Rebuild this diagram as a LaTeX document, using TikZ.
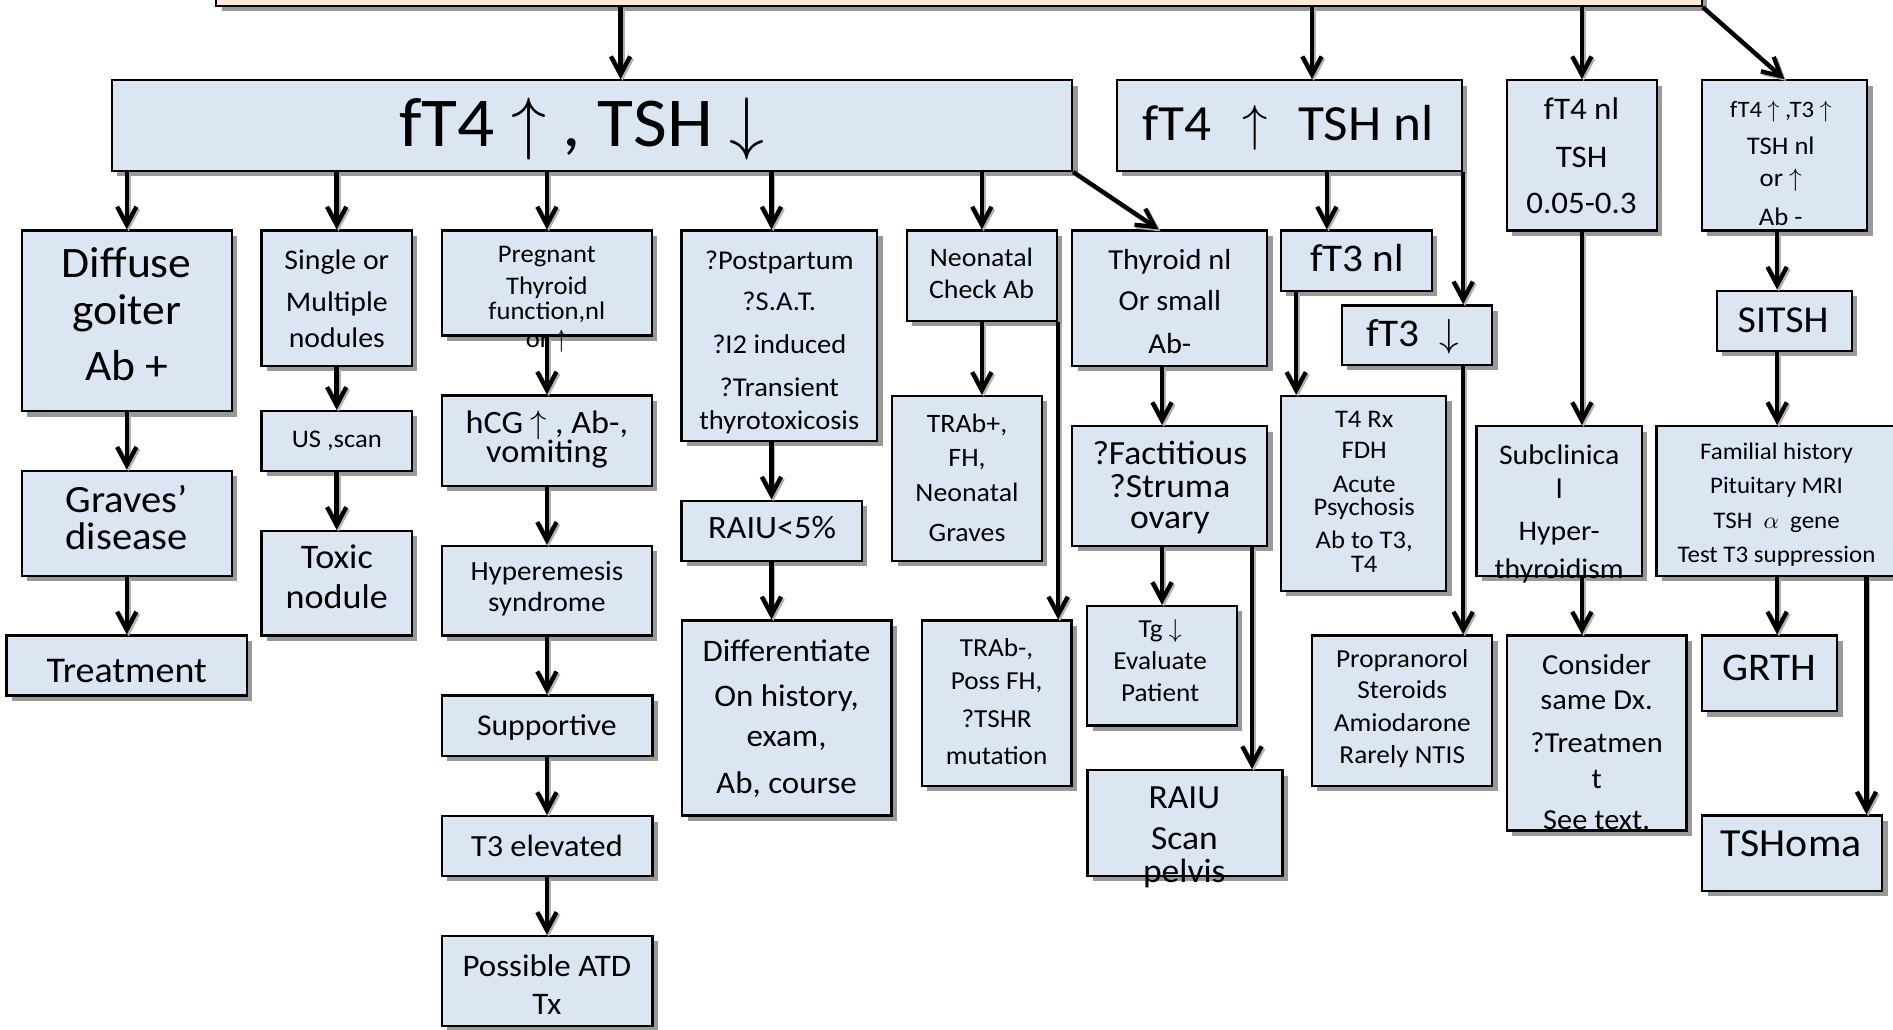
\documentclass[tikz,border=0pt]{standalone}
\DeclareFontShape{OMS}{cmsy}{m}{n}{<->cmsy10}{}
\DeclareFontShape{OML}{cmm}{m}{it}{<->cmmi10}{}
\usepackage{fontspec}
\setmainfont{Carlito}[FakeStretch=1.05]
\usetikzlibrary{arrows.meta,shadows,fit}
\definecolor{boxblue}{HTML}{DCE6F2}
\definecolor{peach}{HTML}{FDEADA}
\tikzset{
  box/.style={draw=black, line width=1.9pt, fill=boxblue, inner sep=0pt,
    drop shadow={shadow xshift=4.5pt, shadow yshift=-4.5pt, fill=black!40, opacity=1}},
  arr/.style={line width=3.6pt, -{Straight Barb[length=15pt,width=16pt]},
    preaction={draw=black!30, line width=3.6pt, -{Straight Barb[length=15pt,width=16pt]},
      transform canvas={shift={(1.5pt,-1.5pt)}}}},
}
\newcommand\boxtext[4]{%
  \foreach \yy/\mytext [count=\ii] in {#4}{%
    \node[inner sep=0pt, anchor=base, font=\fontsize{#3}{#3}\selectfont] (#1\ii) at (#2,\yy+0.322*#3) {\mytext};
  }}
\begin{document}
\begin{tikzpicture}[x=1pt,y=-1pt]
\path[use as bounding box] (0,0) rectangle (1568,853);
\clip (0,0) rectangle (1568,853);
% boxes
\node[box, fill=peach, fit={(179,-40) (1409.5,5)}] (top) {};
\node[box, fit={(92.5,66.5) (888,141.5)}] (A) {};
\node[box, fit={(925,66.5) (1211,141.5)}] (B) {};
\node[box, fit={(1248,66.5) (1372.5,191)}] (C) {};
\node[box, fit={(1409.5,66.5) (1546.5,191)}] (D) {};
\node[box, fit={(18,191) (192,340.5)}] (E) {};
\node[box, fit={(216.7,191) (341,303)}] (F) {};
\node[box, fit={(366,191) (540,278)}] (G) {};
\node[box, fit={(564.5,191) (726.5,365)}] (H) {};
\node[box, fit={(751,191) (875.5,265.6)}] (I) {};
\node[box, fit={(888,191) (1049.6,303)}] (J) {};
\node[box, fit={(1061,191) (1186,240.8)}] (K) {};
\node[box, fit={(1111.5,253) (1236,302.3)}] (L) {};
\node[box, fit={(1223,353) (1360,477)}] (M) {};
\node[box, fit={(1422,240.8) (1534,290.7)}] (N) {};
\node[box, fit={(1372,353) (1590,477)}] (O) {};
\node[box, fit={(18,390) (192,477)}] (P) {};
\node[box, fit={(5.5,526.5) (204.5,576)}] (Q) {};
\node[box, fit={(216.7,340.4) (341,390)}] (R) {};
\node[box, fit={(216.7,439.8) (341,526.5)}] (S) {};
\node[box, fit={(366,327.7) (540,402.6)}] (T) {};
\node[box, fit={(366,452.2) (540,526.5)}] (U) {};
\node[box, fit={(366,576) (540.5,626)}] (V) {};
\node[box, fit={(366,676) (540.5,725.6)}] (W) {};
\node[box, fit={(366,775.3) (540.5,849.6)}] (X) {};
\node[box, fit={(564.5,414.7) (714,464.4)}] (Y) {};
\node[box, fit={(565,514) (738.5,675.6)}] (Z) {};
\node[box, fit={(739,328) (863,464.4)}] (AA) {};
\node[box, fit={(763.6,514) (887.6,651)}] (AB) {};
\node[box, fit={(888,353) (1049.6,452)}] (AC) {};
\node[box, fit={(900.5,502) (1024.6,601)}] (AD) {};
\node[box, fit={(900.8,638) (1062.3,725.6)}] (AE) {};
\node[box, fit={(1061,328) (1198,489.3)}] (AF) {};
\node[box, fit={(1248,526.5) (1397,688)}] (AG) {};
\node[box, fit={(1086.5,526.5) (1236,651)}] (AH) {};
\node[box, fit={(1409.5,526.5) (1521.7,589)}] (AI) {};
\node[box, fit={(1410,675.6) (1559,737.8)}] (AJ) {};
% column coordinates
\coordinate (xa) at (514,0);
\coordinate (xb) at (1086.7,0);
\coordinate (xh) at (639,0);
\coordinate (xk) at (1099,0);
\coordinate (xn) at (1472,0);
\coordinate (xj) at (962.5,0);
\coordinate (xe) at (1037,0);
\coordinate (xf) at (1073.6,0);
\coordinate (xo) at (1546,0);
% connectors
\draw[arr] (xa |- top.south) -- (xa |- A.north);
\draw[arr] (xb |- top.south) -- (xb |- B.north);
\draw[arr] (C.north |- top.south) -- (C.north);
\draw[arr] (top.south east) -- (D.north);
\draw[arr] (E.north |- A.south) -- (E.north);
\draw[arr] (F.north |- A.south) -- (F.north);
\draw[arr] (G.north |- A.south) -- (G.north);
\draw[arr] (xh |- A.south) -- (xh |- H.north);
\draw[arr] (I.north |- A.south) -- (I.north);
\draw[arr] (A.south east) -- ([xshift=-9pt]J.north);
\draw[arr] (xk |- B.south) -- (xk |- K.north);
\draw[arr] (B.south east) -- (B.south east |- L.north);
\draw[arr] (C.south) -- (C.south |- M.north);
\draw[arr] (xn |- D.south) -- (xn |- N.north);
\draw[arr] (xn |- N.south) -- (xn |- O.north);
\draw[arr] (E.south) -- (P.north);
\draw[arr] (P.south) -- (P.south |- Q.north);
\draw[arr] (F.south) -- (F.south |- R.north);
\draw[arr] (R.south) -- (R.south |- S.north);
\draw[arr] (G.south) -- (G.south |- T.north);
\draw[arr] (T.south) -- (T.south |- U.north);
\draw[arr] (U.south) -- (U.south |- V.north);
\draw[arr] (U.south |- V.south) -- (U.south |- W.north);
\draw[arr] (U.south |- W.south) -- (U.south |- X.north);
\draw[arr] (xh |- H.south) -- (xh |- Y.north);
\draw[arr] (xh |- Y.south) -- (xh |- Z.north);
\draw[arr] (I.south) -- (I.south |- AA.north);
\draw[arr] (I.south east) -- (I.south east |- AB.north);
\draw[arr] (xj |- J.south) -- (xj |- AC.north);
\draw[arr] (xj |- AC.south) -- (xj |- AD.north);
\draw[arr] (xe |- AC.south) -- (xe |- AE.north);
\draw[arr] (xf |- K.south) -- (xf |- AF.north);
\draw[arr] (B.south east |- L.south) -- (B.south east |- AH.north);
\draw[arr] (C.south |- M.south) -- (C.south |- AG.north);
\draw[arr] (xn |- O.south) -- (xn |- AI.north);
\draw[arr] (xo |- O.south) -- (xo |- AJ.north);
% texts
\boxtext{tA}{482}{58}{102.5/{fT4 $\uparrow$ , TSH $\downarrow$}}
\boxtext{tB}{1067}{42}{102.5/{fT4\hspace{0.6em}$\uparrow$\hspace{0.6em}TSH nl}}
\boxtext{tC}{1310}{26}{91/{fT4 nl}, 130.5/TSH, 168.7/0.05-0.3}
\boxtext{tD}{1475}{21}{90.4/{\fontsize{19.5}{19.5}\selectfont fT4 $\uparrow$ ,T3 $\uparrow$}, 121.5/{TSH nl}, 148/{or $\uparrow$}, 180/{Ab -}}
\boxtext{tE}{105}{36}{218.4/Diffuse, 257.5/goiter, 303.8/{Ab +}}
\boxtext{tF}{279}{23.5}{215.8/{Single or}, 250.6/Multiple, 280/nodules}
\boxtext{tG}{453}{21}{210.5/Pregnant, 236.8/Thyroid, 257.5/{function,nl}, 281/{or $\uparrow$}}
\boxtext{tH}{645.5}{22.5}{215.8/?Postpartum, 250.2/?S.A.T., 285.5/{?I2 induced}, 321/?Transient, 348.8/thyrotoxicosis}
\boxtext{tI}{813}{22}{214/Neonatal, 240.2/{Check Ab}}
\boxtext{tJ}{969}{24}{215.2/{Thyroid nl}, 249.7/{Or small}, 285/Ab-}
\boxtext{tK}{1124}{32.5}{214.7/{fT3 nl}}
\boxtext{tL}{1170}{32.5}{276.8/{fT3\hspace{0.5em}$\downarrow$}}
\boxtext{tM}{1291.5}{23.5}{377.3/Subclinica, 405.6/l, 440.4/Hyper-, 471.4/thyroidism}
\boxtext{tN}{1477}{31.5}{265/SITSH}
\boxtext{tO}{1471.5}{19.7}{374.2/{Familial history}, 402.4/{Pituitary MRI}, 431.4/{TSH~~$\alpha$~~gene}, 459.5/{Test T3 suppression}}
\boxtext{tP}{105}{32}{414.2/Graves’, 445/disease}
\boxtext{tQ}{105}{30}{555.6/Treatment}
\boxtext{tR}{279}{21}{363.7/{US ,scan}}
\boxtext{tS}{279}{28.5}{461.8/Toxic, 494.7/nodule}
\boxtext{tT}{453}{27}{350.2/{hCG $\uparrow$ , Ab-,}, 374.5/vomiting}
\boxtext{tU}{453}{23}{473.2/Hyperemesis, 499/syndrome}
\boxtext{tV}{453}{25}{601.5/Supportive}
\boxtext{tW}{453}{25.5}{701.3/{T3 elevated}}
\boxtext{tX}{453}{26}{800.7/{Possible ATD}, 832/Tx}
\boxtext{tY}{639.5}{27}{437.2/{RAIU<5\%}}
\boxtext{tZ}{651.5}{26}{539.8/Differentiate, 577/{On history,}, 610/{exam,}, 648.8/{Ab, course}}
\boxtext{tAA}{801}{22}{350.9/{TRAb+,}, 379/{FH,}, 408.6/Neonatal, 441.1/Graves}
\boxtext{tAB}{825.5}{21.5}{537/{TRAb-,}, 564.6/{Poss FH,}, 595.7/?TSHR, 626.7/mutation}
\boxtext{tAC}{969}{28}{375.6/?Factitious, 402.7/?Struma, 429/ovary}
\boxtext{tAD}{961}{21.5}{521.4/{Tg $\downarrow$}, 547.8/Evaluate, 573.9/Patient}
\boxtext{tAE}{981}{28}{660.6/RAIU, 694.4/Scan, 722/pelvis}
\boxtext{tAF}{1130}{21}{347.2/{T4 Rx}, 373.4/FDH, 400.8/Acute, 420.3/Psychosis, 447.3/{Ab to T3,}, 467.7/T4}
\boxtext{tAG}{1322.5}{24}{550.8/Consider, 579.8/{same Dx.}, 615.7/?Treatmen, 645/t, 679.2/{See text.}}
\boxtext{tAH}{1161.5}{21.5}{545.6/Propranorol, 571.5/Steroids, 598.7/Amiodarone, 625.4/{Rarely NTIS}}
\boxtext{tAI}{1465.5}{32.5}{552.9/GRTH}
\boxtext{tAJ}{1483.5}{33}{699.2/TSHoma}
\end{tikzpicture}
\end{document}
